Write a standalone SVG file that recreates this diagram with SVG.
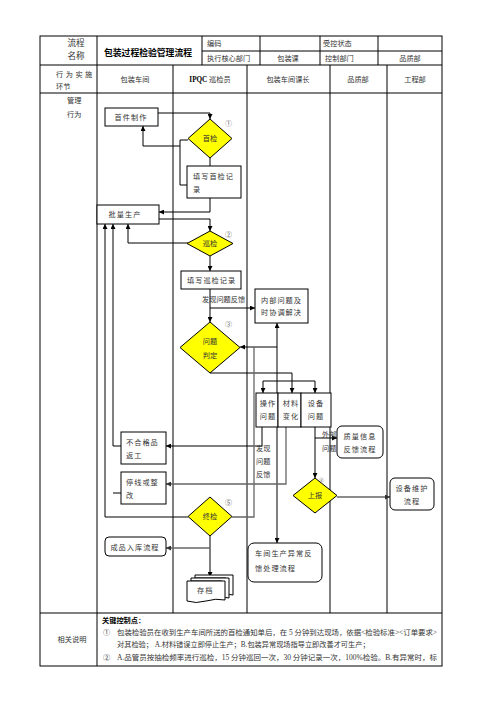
<svg xmlns="http://www.w3.org/2000/svg" width="496" height="702" viewBox="0 0 496 702">
<style>
text{font-family:"Liberation Serif","Noto Sans CJK SC",serif;fill:#333;font-size:7.2px}
.c{text-anchor:middle}
.sp{letter-spacing:1px}
.b{font-weight:bold;fill:#000}
.h{font-size:8.6px}
.n{font-size:7px;fill:#666}
.grid{stroke:#000;stroke-width:1;fill:none}
.box{fill:#fff;stroke:#000;stroke-width:1}
.dia{fill:#ffff00;stroke:#000;stroke-width:1}
.ln{fill:none;stroke:#000;stroke-width:1}
.gr{fill:none;stroke:#666;stroke-width:1.3}
</style>
<defs>
<marker id="ar" viewBox="0 0 6 6" refX="6" refY="3" markerWidth="5" markerHeight="5" markerUnits="userSpaceOnUse" orient="auto-start-reverse"><path d="M0,0 L6,3 L0,6 z" fill="#000"/></marker>
<marker id="arg" viewBox="0 0 6 6" refX="6" refY="3" markerWidth="5" markerHeight="5" markerUnits="userSpaceOnUse" orient="auto"><path d="M0,0 L6,3 L0,6 z" fill="#333"/></marker>
</defs>
<rect width="496" height="702" fill="#fff"/>
<g id="table">
<rect class="grid" x="40" y="36" width="402" height="630"/>
<path class="grid" d="M97,36V666 M202,36V65 M260,36V65 M320,36V65 M378,36V65 M202,51H442 M40,65H442 M40,93H442 M40,613H442 M173,65V613 M247,65V613 M330,65V613 M387,65V613"/>
<text class="h" x="76" y="46" text-anchor="middle">流程</text>
<text class="h" x="76" y="59" text-anchor="middle">名称</text>
<text class="b" x="104" y="56" style="font-size:8.8px">包装过程检验管理流程</text>
<text x="207" y="46">编码</text>
<text x="323" y="46">受控状态</text>
<text x="207" y="61">执行核心部门</text>
<text class="c" x="288" y="61">包装课</text>
<text x="325" y="61">控制部门</text>
<text class="c" x="410" y="61">品质部</text>
<text x="56" y="77" style="letter-spacing:2.5px">行为实施</text>
<text x="56" y="89">环节</text>
<text class="c" x="135" y="82">包装车间</text>
<text class="c" x="210" y="82"><tspan class="b">IPQC</tspan> 巡检员</text>
<text class="c" x="288" y="82">包装车间课长</text>
<text class="c" x="358" y="82">品质部</text>
<text class="c" x="415" y="82">工程部</text>
<text x="67" y="103">管理</text>
<text x="67" y="117">行为</text>
<text class="c" x="72" y="642">相关说明</text>
<text class="b" x="102" y="623">关键控制点：</text>
<text x="103" y="635">①</text>
<text x="117" y="635" textLength="320" lengthAdjust="spacingAndGlyphs">包装检验员在收到生产车间所送的首检通知单后，在 5 分钟到达现场，依据&lt;检验标准&gt;&lt;订单要求&gt;</text>
<text x="117" y="647">对其检验；  A.材料错误立即停止生产；B.包装异常现场指导立即改善才可生产；</text>
<text x="103" y="660">②</text>
<text x="117" y="660" textLength="320" lengthAdjust="spacingAndGlyphs">A.品管员按抽检频率进行巡检，15 分钟巡回一次，30 分钟记录一次，100%检验。B.有异常时，标</text>
</g>
<g id="connectors">
<path class="ln" d="M158,113H210V119" marker-end="url(#ar)"/>
<path class="ln" d="M210,158V166"/>
<path class="ln" d="M188,140H180V185H187"/>
<path class="ln" d="M180,146H143V126" marker-end="url(#ar)"/>
<path class="ln" d="M210,198V212H159" marker-end="url(#ar)"/>
<path class="ln" d="M159,219H210V231" marker-end="url(#ar)"/>
<path class="ln" d="M188,243H128V224" marker-end="url(#ar)"/>
<path class="ln" d="M210,256V271" marker-end="url(#ar)"/>
<path class="ln" d="M210,289V322" marker-end="url(#ar)"/>
<path class="ln" d="M210,308H255" marker-end="url(#ar)"/>
<path class="ln" d="M277,323V543" marker-start="url(#ar)" marker-end="url(#ar)"/>
<path class="ln" d="M277,347H240" marker-end="url(#ar)"/>
<path class="ln" d="M210,373H292V393" marker-end="url(#ar)"/>
<path class="ln" d="M263,381H315"/>
<path class="ln" d="M263,381V393" marker-end="url(#ar)"/>
<path class="ln" d="M315,381V393" marker-end="url(#ar)"/>
<path class="ln" d="M262,427V446H166" marker-end="url(#ar)"/>
<path class="gr" d="M286,427V484H166" marker-end="url(#arg)"/>
<path class="ln" d="M315,427V478" marker-end="url(#ar)"/>
<path class="ln" d="M315,438H337" marker-end="url(#ar)"/>
<path class="gr" d="M337,497H390" marker-end="url(#arg)"/>
<path class="ln" d="M121,446H113V224" marker-end="url(#ar)"/>
<path class="ln" d="M121,493H113"/>
<path class="ln" d="M188,517H105V224" marker-end="url(#ar)"/>
<path class="gr" d="M232,517H254V347"/>
<path class="ln" d="M210,536V577" marker-end="url(#ar)"/>
<path class="gr" d="M210,548H166" marker-end="url(#arg)"/>
</g>
<g id="n-shoujianzhizuo"><rect class="box" x="105" y="108" width="53" height="18"/><text class="c sp" x="131" y="120">首件制作</text></g>
<g id="n-shoujian"><polygon class="dia" points="210,119 232,138.5 210,158 188,138.5"/><text class="c" x="210" y="141">首检</text><text class="n" x="225" y="126">①</text></g>
<g id="n-tianxieshoujian"><rect class="box" x="187" y="166" width="54" height="32"/><text class="sp" x="193" y="178.5">填写首检记</text><text x="193" y="191.5">录</text></g>
<g id="n-piliang"><rect class="box" x="97" y="205" width="62" height="19"/><text class="c sp" x="125" y="216.5">批量生产</text></g>
<g id="n-xunjian"><polygon class="dia" points="210,231 233,243.5 210,256 187,243.5"/><text class="c" x="210" y="246">巡检</text><text class="n" x="225" y="237">②</text></g>
<g id="n-tianxiexunjian"><rect class="box" x="181" y="271" width="60" height="18"/><text class="sp" x="187" y="282.5">填写巡检记录</text></g>
<g id="n-label-fx1"><text x="202" y="301.5">发现问题反馈</text></g>
<g id="n-neibu"><rect class="box" x="255" y="289" width="53" height="34"/><text class="sp" x="261" y="302.5">内部问题及</text><text class="sp" x="261" y="314.5">时协调解决</text><text class="n" x="225" y="327">③</text></g>
<g id="n-wentipanding"><polygon class="dia" points="210,322 240,347.5 210,373 180,347.5"/><text class="c" x="210" y="343.5">问题</text><text class="c" x="210" y="357.5">判定</text></g>
<g id="n-three">
<rect class="box" x="256" y="393" width="22" height="34"/>
<rect class="box" x="278" y="393" width="23" height="34"/>
<rect class="box" x="301" y="393" width="30" height="34"/>
<text class="c sp" x="268" y="406">操作</text><text class="c sp" x="268" y="419">问题</text>
<text class="c sp" x="291" y="406">材料</text><text class="c sp" x="291" y="419">变化</text>
<text class="c sp" x="316" y="406">设备</text><text class="c sp" x="316" y="419">问题</text>
</g>
<g id="n-label-fx2"><text x="256" y="450.5">发现</text><text x="256" y="463.5">问题</text><text x="256" y="476.5">反馈</text></g>
<g id="n-label-wb"><text x="322" y="437">外部</text><text x="322" y="450.5">问题</text></g>
<g id="n-zhiliang"><rect class="box" x="337" y="426" width="46" height="32" rx="5"/><text class="c sp" x="360" y="439">质量信息</text><text class="c sp" x="360" y="452">反馈流程</text></g>
<g id="n-buhege"><rect class="box" x="121" y="432" width="45" height="32"/><text class="sp" x="126" y="444.5">不合格品</text><text class="sp" x="126" y="457.5">返工</text></g>
<g id="n-tingxian"><rect class="box" x="121" y="472" width="45" height="32"/><text class="sp" x="126" y="484.5">停线或整</text><text x="126" y="497.5">改</text></g>
<g id="n-shangbao"><polygon class="dia" points="315,478 337,495.5 315,513 293,495.5"/><text class="c" x="315" y="498">上报</text><text class="n" x="319" y="482" style="font-size:5px">④</text></g>
<g id="n-shebei"><rect class="box" x="390" y="478" width="44" height="32" rx="5"/><text class="c sp" x="412" y="491">设备维护</text><text class="c sp" x="412" y="504">流程</text></g>
<g id="n-zhongjian"><polygon class="dia" points="210,497 232,516.5 210,536 188,516.5"/><text class="c" x="210" y="519">终检</text><text class="n" x="225" y="505">⑤</text></g>
<g id="n-chengpin"><rect class="box" x="105" y="537" width="61" height="19" rx="4"/><text class="c sp" x="135" y="549.5">成品入库流程</text></g>
<g id="n-chejian"><rect class="box" x="248" y="543" width="74" height="39" rx="6"/><text class="sp" x="255" y="555.5">车间生产异常反</text><text class="sp" x="255" y="570.5">馈处理流程</text></g>
<g id="n-cundang">
<path class="box" d="M195,575H233V595Q230,594 226,595V578H195Z"/>
<path class="box" d="M191,578H229V598Q226,597 222,598V581H191Z"/>
<path class="box" d="M187,581H225V600Q216,598 206,601Q196,604 187,601Z"/>
<text class="sp" x="197" y="592.5">存档</text>
</g>
</svg>
